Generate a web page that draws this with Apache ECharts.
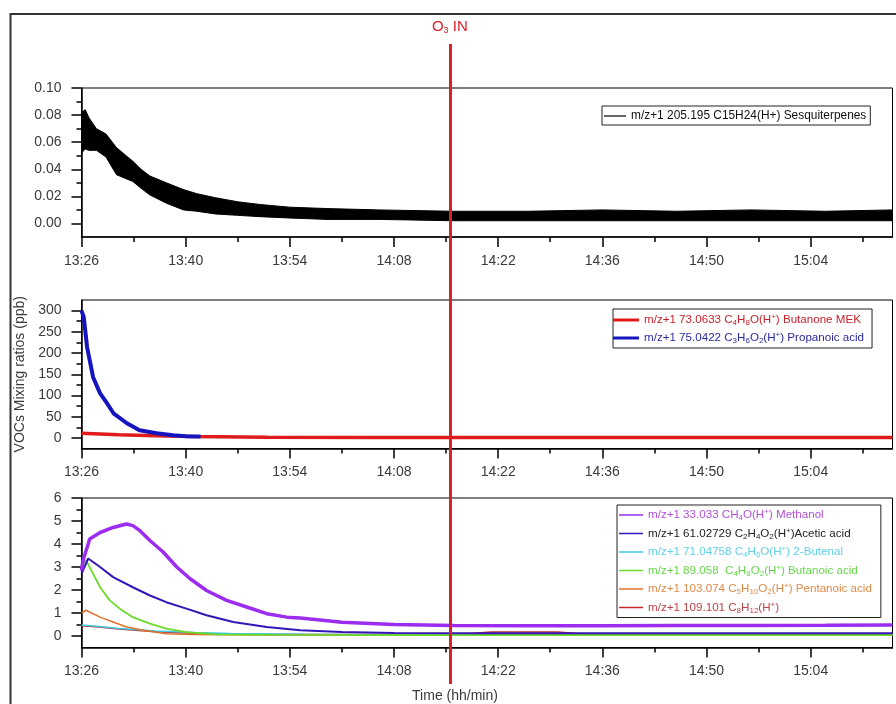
<!DOCTYPE html>
<html><head><meta charset="utf-8">
<script src="https://cdn.jsdelivr.net/npm/echarts@6/dist/echarts.min.js"></script>
<style>html,body{margin:0;padding:0;background:#fff}#c{width:896px;height:704px}</style>
</head><body><div id="c"></div>
<script>
// ---------------- data ----------------
// time in minutes after 13:26
const xMax = 109;
const xTickValues = [0, 14, 28, 42, 56, 70, 84, 98];
const xTickLabels = ['13:26', '13:40', '13:54', '14:08', '14:22', '14:36', '14:50', '15:04'];
const xMinorTicks = [7, 21, 35, 49, 63, 77, 91, 105];
const o3Time = 49.5;

// panel 1 axis
const y1Range = [-0.01, 0.10];
const y1Ticks = [0, 0.02, 0.04, 0.06, 0.08, 0.10];
const y1Labels = ['0.00', '0.02', '0.04', '0.06', '0.08', '0.10'];
const y1Minor = [0.01, 0.03, 0.05, 0.07, 0.09];
// panel 2 axis
const y2Range = [-25, 325];
const y2Ticks = [0, 50, 100, 150, 200, 250, 300];
const y2Labels = ['0', '50', '100', '150', '200', '250', '300'];
const y2Minor = [25, 75, 125, 175, 225, 275];
// panel 3 axis
const y3Range = [-0.5, 6];
const y3Ticks = [0, 1, 2, 3, 4, 5, 6];
const y3Labels = ['0', '1', '2', '3', '4', '5', '6'];
const y3Minor = [0.5, 1.5, 2.5, 3.5, 4.5, 5.5];

// panel 1: sesquiterpenes noise band (lower / upper envelope)
const sesqT    = [0, 0.5, 1, 2, 3.3, 4.7, 6, 6.9, 8, 9.2, 11.4, 13.7, 15.5, 18, 21, 24, 28, 33, 40, 50, 60, 70, 80, 90, 100, 109];
const sesqHigh = [0.082, 0.084, 0.078, 0.070, 0.066, 0.056, 0.050, 0.046, 0.040, 0.035, 0.030, 0.025, 0.022, 0.019, 0.016, 0.014, 0.012, 0.011, 0.010, 0.009, 0.009, 0.010, 0.009, 0.010, 0.009, 0.010];
const sesqLow  = [0.052, 0.055, 0.054, 0.054, 0.049, 0.036, 0.033, 0.031, 0.026, 0.021, 0.015, 0.010, 0.009, 0.007, 0.006, 0.005, 0.004, 0.003, 0.003, 0.002, 0.002, 0.002, 0.002, 0.002, 0.002, 0.002];

// panel 2
const mekT  = [0, 5, 10, 15, 25, 40, 60, 80, 109];
const mekV  = [11, 7.5, 5, 3, 1.8, 1.2, 1, 0.9, 0.9];
const propT = [0, 0.3, 0.75, 1.56, 2.5, 3.3, 4.3, 6.1, 7.8, 10.1, 12.3, 14, 16];
const propV = [300, 285, 214, 143, 105, 85, 58, 34.5, 18, 11, 6, 4, 3];

// panel 3
const methT = [0, 0.2, 0.9, 1.1, 2.5, 4.25, 6.05, 6.9, 7.85, 9.2, 11, 12.8, 14.6, 16.8, 19.5, 22.2, 24.9, 27.6, 29.4, 35, 42, 50, 60, 70, 80, 90, 100, 109];
const methV = [2.85, 3.28, 4.0, 4.22, 4.5, 4.72, 4.87, 4.8, 4.58, 4.15, 3.64, 3.0, 2.49, 1.98, 1.55, 1.26, 0.97, 0.82, 0.78, 0.6, 0.5, 0.46, 0.45, 0.45, 0.46, 0.46, 0.47, 0.48];
const aceT  = [0, 0.9, 2.5, 4.25, 6.9, 9.2, 11.4, 14.1, 16.8, 20.4, 24.9, 29.4, 35, 42, 55, 70, 90, 109];
const aceV  = [2.7, 3.37, 3.0, 2.56, 2.12, 1.76, 1.47, 1.19, 0.90, 0.61, 0.39, 0.25, 0.17, 0.13, 0.12, 0.12, 0.12, 0.12];
const butenalT = [0, 2, 5, 10, 15, 20, 30, 50, 80, 109];
const butenalV = [0.48, 0.42, 0.33, 0.22, 0.15, 0.11, 0.08, 0.07, 0.07, 0.07];
const butanoicT = [0, 0.6, 1.56, 2.5, 3.8, 5.15, 6.9, 9.2, 11.4, 14.1, 18.2, 25, 40, 70, 109];
const butanoicV = [3.0, 3.3, 2.7, 2.12, 1.55, 1.19, 0.82, 0.54, 0.32, 0.17, 0.07, 0.05, 0.04, 0.04, 0.04];
const pentT = [0, 0.6, 2.5, 4.25, 6.05, 8.3, 11.4, 15, 25, 50, 109];
const pentV = [1.0, 1.12, 0.82, 0.61, 0.39, 0.25, 0.1, 0.06, 0.04, 0.03, 0.03];
const c8T = [0, 2, 5, 10, 15, 20, 30, 45, 52, 55, 64, 67, 75, 90, 109];
const c8V = [0.45, 0.4, 0.3, 0.18, 0.12, 0.08, 0.06, 0.06, 0.1, 0.17, 0.17, 0.1, 0.08, 0.07, 0.07];

// legend names (_{x} = subscript, ^{x} = superscript)
const nSesq = 'm/z+1 205.195 C15H24(H+) Sesquiterpenes';
const nMek  = 'm/z+1 73.0633 C_{4}H_{8}O(H^{+}) Butanone MEK';
const nProp = 'm/z+1 75.0422 C_{3}H_{6}O_{2}(H^{+}) Propanoic acid';
const nMeth = 'm/z+1 33.033 CH_{4}O(H^{+}) Methanol';
const nAce  = 'm/z+1 61.02729 C_{2}H_{4}O_{2}(H^{+})Acetic acid';
const nButenal = 'm/z+1 71.04758 C_{4}H_{6}O(H^{+}) 2-Butenal';
const nButanoic = 'm/z+1 89.058  C_{4}H_{8}O_{2}(H^{+}) Butanoic acid';
const nPent = 'm/z+1 103.074 C_{5}H_{10}O_{2}(H^{+}) Pentanoic acid';
const nC8   = 'm/z+1 109.101 C_{8}H_{12}(H^{+})';
const yTitle = 'VOCs Mixing ratios (ppb)';
const xTitle = 'Time (hh/min)';

// ---------------- styling ----------------
const FONT = '"Liberation Sans", Arial, sans-serif';
const LABEL_COLOR = '#3a3a3a';
const textColors = {
  [nSesq]: '#111', [nMek]: '#c8202a', [nProp]: '#2a2aa0',
  [nMeth]: '#b050d8', [nAce]: '#222', [nButenal]: '#5fd0e6',
  [nButanoic]: '#66d84a', [nPent]: '#e08a4a', [nC8]: '#c04048'
};
const names = Object.keys(textColors);
const rich = {};
names.forEach((n, k) => {
  const c = textColors[n];
  const fs = k === 0 ? 11.9 : 11.6;
  rich['n' + k] = {fontSize: fs, color: c, lineHeight: 14, fontFamily: FONT};
  rich['s' + k] = {fontSize: 8, color: c, lineHeight: 8, verticalAlign: 'bottom', fontFamily: FONT};
  rich['p' + k] = {fontSize: 8, color: c, lineHeight: 8, verticalAlign: 'top', fontFamily: FONT};
});
function toRich(name) {
  const k = names.indexOf(name);
  return name.split(/(_\{[^}]*\}|\^\{[^}]*\})/).filter(s => s.length).map(s => {
    if (s[0] === '_') return '{s' + k + '|' + s.slice(2, -1) + '}';
    if (s[0] === '^') return '{p' + k + '|' + s.slice(2, -1) + '}';
    return '{n' + k + '|' + s + '}';
  }).join('');
}
function pairs(t, v) { return t.map((x, i) => [x, v[i]]); }

const gridBoxes = [
  {left: 81.5, width: 811, top: 88, height: 149},
  {left: 81.5, width: 811, top: 300, height: 148.5},
  {left: 81.5, width: 811, top: 498, height: 149.5},
  {left: 81.5, width: 811, top: 44, height: 640}
];
const tickLine = {color: '#000', width: 1.5};
const xAxes = [], yAxes = [];
const yDefs = [
  [y1Range, y1Ticks, y1Labels, y1Minor],
  [y2Range, y2Ticks, y2Labels, y2Minor],
  [y3Range, y3Ticks, y3Labels, y3Minor]
];
for (let g = 0; g < 3; g++) {
  xAxes.push({
    type: 'value', gridIndex: g, position: 'bottom', min: 0, max: xMax,
    axisLine: {show: true, onZero: false, lineStyle: {color: '#000', width: 1.5}},
    axisTick: {show: true, customValues: xTickValues, length: 10, lineStyle: tickLine},
    axisLabel: {show: true, customValues: xTickValues, margin: 17, fontSize: 14, color: LABEL_COLOR, fontFamily: FONT,
      formatter: v => { const i = xTickValues.indexOf(v); return i >= 0 ? xTickLabels[i] : ''; }},
    splitLine: {show: false}
  });
  xAxes.push({
    type: 'value', gridIndex: g, position: 'bottom', min: 0, max: xMax,
    axisLine: {show: false, onZero: false},
    axisTick: {show: true, customValues: xMinorTicks, length: 5, lineStyle: tickLine},
    axisLabel: {show: false}, splitLine: {show: false}
  });
  const [rng, tks, lbs, mnr] = yDefs[g];
  const major = {
    type: 'value', gridIndex: g, position: 'left', min: rng[0], max: rng[1],
    axisLine: {show: true, onZero: false, lineStyle: {color: '#000', width: 1.5}},
    axisTick: {show: true, customValues: tks, length: 10, lineStyle: tickLine},
    axisLabel: {show: true, customValues: tks, margin: 20, fontSize: 14, color: LABEL_COLOR, fontFamily: FONT,
      formatter: v => { let i = tks.findIndex(t => Math.abs(t - v) < 1e-9); return i >= 0 ? lbs[i] : ''; }},
    splitLine: {show: false}
  };
  if (g === 1) {
    major.name = yTitle; major.nameLocation = 'middle'; major.nameGap = 49;
    major.nameTextStyle = {fontSize: 14, color: LABEL_COLOR, fontFamily: FONT};
  }
  yAxes.push(major);
  yAxes.push({
    type: 'value', gridIndex: g, position: 'left', min: rng[0], max: rng[1],
    axisLine: {show: false, onZero: false},
    axisTick: {show: true, customValues: mnr, length: 5, lineStyle: tickLine},
    axisLabel: {show: false}, splitLine: {show: false}
  });
}
xAxes.push({type: 'value', gridIndex: 3, min: 0, max: xMax, show: false});
yAxes.push({type: 'value', gridIndex: 3, min: 0, max: 1, show: false});

function lineSeries(name, t, v, color, width, axis) {
  return {
    type: 'line', name: name, data: pairs(t, v), xAxisIndex: axis, yAxisIndex: axis,
    showSymbol: false, symbol: 'none', color: color, lineStyle: {color: color, width: width},
    silent: true, animation: false, z: 3
  };
}

const series = [
  {
    type: 'custom', name: nSesq, xAxisIndex: 0, yAxisIndex: 0, color: '#000',
    data: sesqT.map((t, i) => [t, sesqLow[i], sesqHigh[i]]),
    encode: {x: 0, y: [1, 2]}, silent: true, animation: false,
    renderItem: function (params, api) {
      if (params.dataIndex !== 0) return null;
      const pts = [];
      for (let i = 0; i < sesqT.length; i++) pts.push(api.coord([sesqT[i], sesqHigh[i]]));
      for (let i = sesqT.length - 1; i >= 0; i--) pts.push(api.coord([sesqT[i], sesqLow[i]]));
      return {type: 'polygon', shape: {points: pts}, style: {fill: '#000', stroke: '#000', lineWidth: 1}};
    }
  },
  lineSeries(nMek, mekT, mekV, '#e01b1b', 3.5, 2),
  lineSeries(nProp, propT, propV, '#1515c0', 4, 2),
  lineSeries(nC8, c8T, c8V, '#c42828', 1.5, 4),
  lineSeries(nButenal, butenalT, butenalV, '#3cc8e6', 1.5, 4),
  lineSeries(nPent, pentT, pentV, '#e0702a', 1.5, 4),
  lineSeries(nButanoic, butanoicT, butanoicV, '#6bdc2a', 1.8, 4),
  lineSeries(nAce, aceT, aceV, '#3514b8', 2, 4),
  lineSeries(nMeth, methT, methV, '#9b2cf0', 3.5, 4),
  {
    type: 'line', name: 'o3', xAxisIndex: 6, yAxisIndex: 6, data: [[o3Time, 0.5]],
    symbol: 'none', lineStyle: {opacity: 0}, silent: true, animation: false, z: 10,
    markLine: {
      silent: true, symbol: ['none', 'none'], animation: false,
      lineStyle: {color: '#d9202a', width: 3, type: 'solid'},
      label: {show: true, position: 'end', distance: 9, formatter: '{a|O}{b|3}{a| IN}',
        rich: {a: {fontSize: 15, color: '#d9202a', lineHeight: 16, fontFamily: FONT},
               b: {fontSize: 9, color: '#d9202a', lineHeight: 9, verticalAlign: 'bottom', fontFamily: FONT}}},
      data: [{xAxis: o3Time}]
    }
  }
];

const legendCommon = {
  orient: 'vertical', selectedMode: false, icon: 'rect', borderColor: '#222', borderWidth: 1,
  backgroundColor: '#fff', formatter: toRich, textStyle: {rich: rich, fontFamily: FONT},
  itemStyle: {borderWidth: 0}
};

const option = {
  backgroundColor: '#fff',
  animation: false,
  textStyle: {fontFamily: FONT},
  grid: gridBoxes.map((b, i) => Object.assign({}, b, {
    show: i < 3, borderColor: '#000', borderWidth: 1, backgroundColor: 'transparent',
    containLabel: false, outerBoundsMode: 'none'
  })),
  xAxis: xAxes,
  yAxis: yAxes,
  legend: [
    Object.assign({}, legendCommon, {left: 602, top: 106, padding: [4, 4, 3, 2], itemWidth: 22, itemHeight: 1.2, itemGap: 4, data: [nSesq]}),
    Object.assign({}, legendCommon, {left: 613, top: 309, padding: [4, 8, 3, 0], itemWidth: 26, itemHeight: 3, itemGap: 4, data: [nMek, nProp]}),
    Object.assign({}, legendCommon, {left: 617, top: 505, padding: [3, 9, 3, 2], itemWidth: 24, itemHeight: 1.5, itemGap: 4.5,
      data: [nMeth, nAce, nButenal, nButanoic, nPent, nC8]})
  ],
  graphic: [
    {type: 'rect', shape: {x: 10.5, y: 14, width: 900, height: 720}, style: {fill: 'none', stroke: '#333', lineWidth: 2}, silent: true, z: 100},
    {type: 'text', x: 455, y: 696, style: {text: xTitle, textAlign: 'center', textVerticalAlign: 'middle', fontSize: 14, fill: LABEL_COLOR, fontFamily: FONT}, silent: true}
  ],
  series: series
};
const chart = echarts.init(document.getElementById('c'));
chart.setOption(option);
</script>
</body></html>
